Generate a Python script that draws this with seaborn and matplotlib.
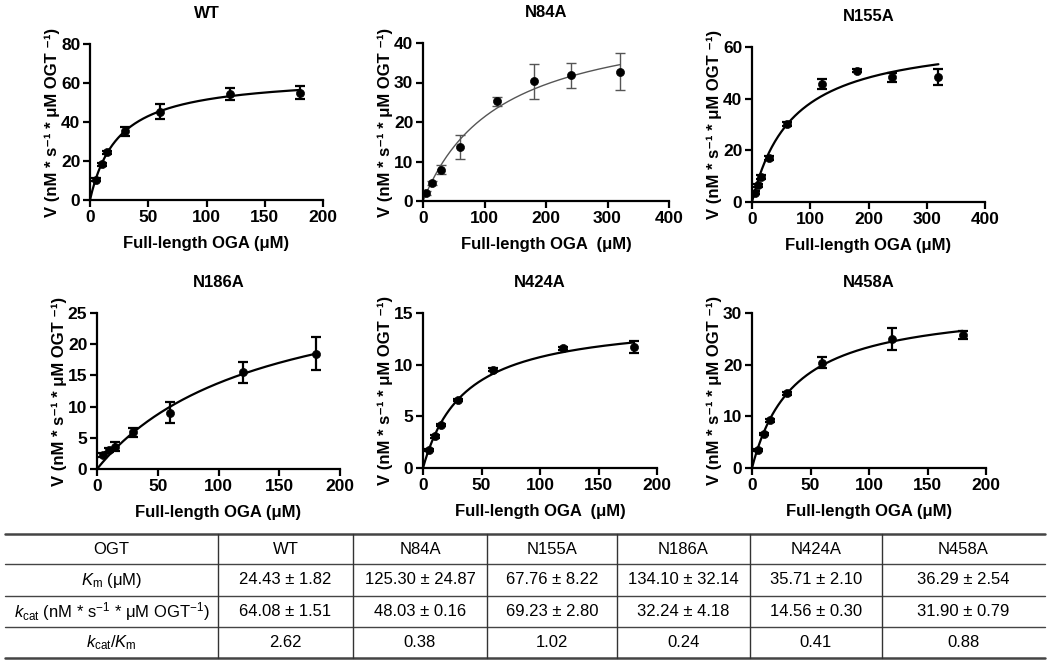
import numpy as np
import matplotlib
matplotlib.use("Agg")
import matplotlib.pyplot as plt
import seaborn as sns

sns.set_theme(style="ticks")
plt.rcParams["font.family"] = ["Liberation Sans", "DejaVu Sans"]
plt.rcParams["text.color"] = "black"
plt.rcParams["axes.labelcolor"] = "black"
plt.rcParams["mathtext.fontset"] = "custom"
plt.rcParams["mathtext.rm"] = "Liberation Sans"
plt.rcParams["mathtext.it"] = "Liberation Sans:italic"
plt.rcParams["mathtext.bf"] = "Liberation Sans:bold"
plt.rcParams["mathtext.default"] = "regular"

# substrate concentrations (uM)
x_short = [5, 10, 15, 30, 60, 120, 180]
x_long = [5, 15, 30, 60, 120, 180, 240, 320]
x_n155a = [5, 10, 15, 30, 60, 120, 180, 240, 320]

wt_v = [10.3, 18.3, 24.4, 35.2, 45.3, 54.3, 55.0]
wt_err = [0.8, 0.8, 0.8, 2.4, 4.0, 3.0, 3.3]
n84a_v = [2.0, 4.6, 7.9, 13.7, 25.2, 30.3, 31.8, 32.7]
n84a_err = [0.5, 0.5, 1.1, 3.0, 1.1, 4.4, 3.2, 4.7]
n155a_v = [3.6, 6.5, 9.7, 16.9, 30.1, 45.8, 50.8, 48.2, 48.4]
n155a_err = [0.5, 0.5, 0.8, 0.8, 0.8, 2.0, 0.5, 1.6, 3.0]
n186a_v = [2.3, 3.1, 3.6, 5.85, 9.0, 15.5, 18.5]
n186a_err = [0.3, 0.3, 0.7, 0.8, 1.7, 1.7, 2.7]
n424a_v = [1.7, 3.05, 4.15, 6.6, 9.5, 11.6, 11.7]
n424a_err = [0.1, 0.1, 0.1, 0.1, 0.15, 0.15, 0.55]
n458a_v = [3.5, 6.6, 9.2, 14.45, 20.4, 25.0, 25.7]
n458a_err = [0.2, 0.2, 0.3, 0.3, 1.0, 2.15, 0.8]

# Michaelis-Menten fit curves (Vmax, Km) as drawn
fit_vmax = [64.08, 48.03, 65.0, 32.24, 14.56, 31.90]
fit_km = [24.43, 125.30, 70.0, 134.10, 35.71, 36.29]

names = ["WT", "N84A", "N155A", "N186A", "N424A", "N458A"]
xs = [x_short, x_long, x_n155a, x_short, x_short, x_short]
vs = [wt_v, n84a_v, n155a_v, n186a_v, n424a_v, n458a_v]
errs = [wt_err, n84a_err, n155a_err, n186a_err, n424a_err, n458a_err]
xmax = [200, 400, 400, 200, 200, 200]
xstep = [50, 100, 100, 50, 50, 50]
ymax = [80, 40, 60, 25, 15, 30]
ystep = [20, 10, 20, 5, 5, 10]
xlabels = ["Full-length OGA (μM)", "Full-length OGA  (μM)", "Full-length OGA (μM)",
           "Full-length OGA (μM)", "Full-length OGA  (μM)", "Full-length OGA (μM)"]
ylabel = "V (nM * s⁻¹ * μM OGT ⁻¹)"

# table
row_labels = ["OGT", r"$\mathit{K}_{m}$ (μM)",
              r"$\mathit{k}_{cat}$ (nM * s$^{-1}$ * μM OGT$^{-1}$)",
              r"$\mathit{k}_{cat}$/$\mathit{K}_{m}$"]
km_txt = ["24.43 ± 1.82", "125.30 ± 24.87", "67.76 ± 8.22", "134.10 ± 32.14", "35.71 ± 2.10", "36.29 ± 2.54"]
kcat_txt = ["64.08 ± 1.51", "48.03 ± 0.16", "69.23 ± 2.80", "32.24 ± 4.18", "14.56 ± 0.30", "31.90 ± 0.79"]
ratio_txt = ["2.62", "0.38", "1.02", "0.24", "0.41", "0.88"]

W, H = 1050, 664
fig = plt.figure(figsize=(10.5, 6.64), dpi=100)

# axes boxes in pixels: left, right, top, bottom
boxes = [(90, 323, 44, 200), (423, 669, 43, 201), (752, 985, 47, 202),
         (97, 340, 313, 469), (423, 657, 313, 468), (752, 986, 313, 468)]

for i in range(6):
    l, r, t, b = boxes[i]
    ax = fig.add_axes([l / W, 1 - b / H, (r - l) / W, (b - t) / H])
    col = "#555555" if names[i] == "N84A" else "black"
    lw = 1.0 if names[i] == "N84A" else 1.6
    xx = np.linspace(0, max(xs[i]), 300)
    yy = fit_vmax[i] * xx / (fit_km[i] + xx)
    sns.lineplot(x=xx, y=yy, ax=ax, color=col, lw=lw)
    ax.errorbar(xs[i], vs[i], yerr=errs[i], fmt="none", ecolor=col,
                elinewidth=lw, capsize=3.5, capthick=lw, zorder=3)
    sns.scatterplot(x=xs[i], y=vs[i], ax=ax, color="black", s=34,
                    edgecolor="black", zorder=4)
    ax.set_xlim(0, xmax[i])
    ax.set_ylim(0, ymax[i])
    ax.set_xticks(np.arange(0, xmax[i] + 1, xstep[i]))
    ax.set_yticks(np.arange(0, ymax[i] + 1, ystep[i]))
    sns.despine(ax=ax)
    for s in ["left", "bottom"]:
        ax.spines[s].set_linewidth(1.6)
        ax.spines[s].set_color("black")
    ax.tick_params(width=1.6, length=5, labelsize=12.5, colors="black", pad=2)
    for lab in ax.get_xticklabels() + ax.get_yticklabels():
        lab.set_fontweight("bold")
    ax.set_title(names[i], fontsize=12, fontweight="bold",
                 pad=19, color="black")
    ax.set_xlabel(xlabels[i], fontsize=12, fontweight="bold", labelpad=8)
    ax.set_ylabel(ylabel, fontsize=12, fontweight="bold")
    ax.yaxis.set_label_coords(-30 / (r - l), 0.5)
    ax.set_facecolor("white")

# table drawn in its own axes (pixel units)
tx = fig.add_axes([0, 0, 1, 1], zorder=-1)
tx.set_xlim(0, W)
tx.set_ylim(H, 0)
tx.axis("off")
col_edges = [5, 218, 353, 487, 617, 750, 882, 1045]
row_edges = [534, 564, 596, 627, 658]
for j, y in enumerate(row_edges):
    tx.plot([col_edges[0], col_edges[-1]], [y, y], color="#444444",
            lw=1.8 if j in (0, len(row_edges) - 1) else 1.0)
for xv in col_edges[1:-1]:
    tx.plot([xv, xv], [row_edges[0], row_edges[-1]], color="#333333", lw=1.0)

cells = [names, km_txt, kcat_txt, ratio_txt]
for r in range(4):
    yc = (row_edges[r] + row_edges[r + 1]) / 2
    tx.text((col_edges[0] + col_edges[1]) / 2, yc, row_labels[r],
            ha="center", va="center", fontsize=12)
    for c in range(6):
        xc = (col_edges[c + 1] + col_edges[c + 2]) / 2
        tx.text(xc, yc, cells[r][c], ha="center", va="center", fontsize=12)

fig.savefig("out.png", dpi=100, facecolor="white")
